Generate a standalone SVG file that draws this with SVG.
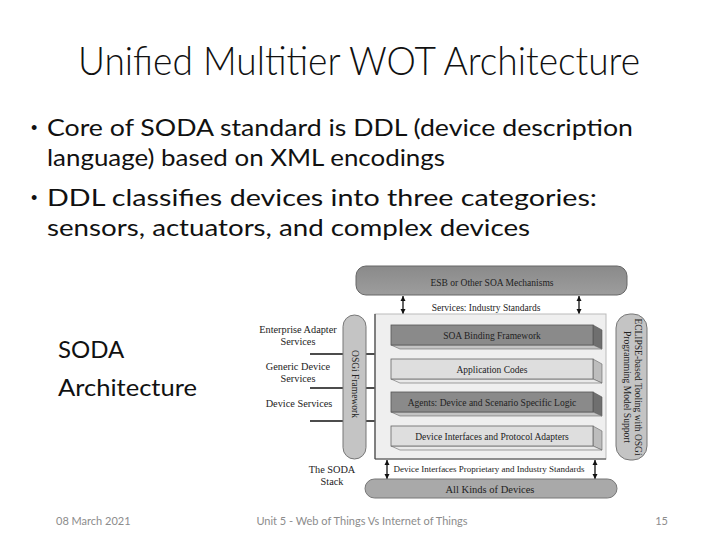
<svg xmlns="http://www.w3.org/2000/svg" width="720" height="540" viewBox="0 0 720 540">
<style>
.title{font-family:Lato,"Noto Sans","Liberation Sans",sans-serif;font-size:40px;fill:#111;font-weight:300}
.body{font-family:Lato,"Noto Sans","Liberation Sans",sans-serif;font-size:24px;fill:#111}
.bul{font-family:"Liberation Sans",sans-serif;font-size:18px;fill:#111}
.foot{font-family:Lato,"Liberation Sans",sans-serif;font-size:11px;fill:#8c8c8c}
.dc{font-family:"Liberation Serif","DejaVu Serif",serif;font-size:9.5px;fill:#222;text-anchor:middle}
.lab{font-size:10.3px}
.dark{fill:#8a8a8a;stroke:#555;stroke-width:0.8}
.light{fill:#dedede;stroke:#666;stroke-width:0.8}
.side{fill:#6f6f6f;stroke:#555;stroke-width:0.6}
.lside{fill:#bdbdbd;stroke:#666;stroke-width:0.6}
.bot{fill:#c4c4c4;stroke:#666;stroke-width:0.6}
.pill{fill:#c4c4c4;stroke:#777;stroke-width:1}
.conn{stroke:#111;stroke-width:1.3;fill:none}
</style>
<defs>
<marker id="ah" viewBox="0 0 10 10" refX="10" refY="5" markerWidth="9" markerHeight="7" markerUnits="userSpaceOnUse" orient="auto"><path d="M0,0 L10,5 L0,10 z" fill="#111"/></marker>
<marker id="sh" viewBox="0 0 10 10" refX="10" refY="5" markerWidth="5" markerHeight="6" markerUnits="userSpaceOnUse" orient="auto-start-reverse"><path d="M0,0 L10,5 L0,10 z" fill="#111"/></marker>
<linearGradient id="gEsb" x1="0" y1="0" x2="0" y2="1"><stop offset="0" stop-color="#8a8a8a"/><stop offset="1" stop-color="#9d9d9d"/></linearGradient>
</defs>
<rect width="720" height="540" fill="#fff"/>

<g id="title"><text class="title" x="78" y="75" textLength="562" lengthAdjust="spacingAndGlyphs">Unified Multitier WOT Architecture</text></g>

<g id="bullets">
<text class="bul" x="31" y="134">•</text>
<text class="body" x="47" y="136" textLength="586" lengthAdjust="spacingAndGlyphs">Core of SODA standard is DDL (device description</text>
<text class="body" x="47" y="166" textLength="398" lengthAdjust="spacingAndGlyphs">language) based on XML encodings</text>
<text class="bul" x="31" y="204">•</text>
<text class="body" x="47" y="206" textLength="550" lengthAdjust="spacingAndGlyphs">DDL classifies devices into three categories:</text>
<text class="body" x="47" y="236" textLength="483" lengthAdjust="spacingAndGlyphs">sensors, actuators, and complex devices</text>
</g>

<g id="side-label">
<text class="body" x="58" y="358">SODA</text>
<text class="body" x="58" y="396" textLength="139" lengthAdjust="spacingAndGlyphs">Architecture</text>
</g>

<g id="connectors">
<line class="conn" x1="310" y1="354" x2="391" y2="354" marker-end="url(#ah)"/>
<line class="conn" x1="310" y1="388" x2="391" y2="388" marker-end="url(#ah)"/>
<line class="conn" x1="310" y1="421" x2="391" y2="421" marker-end="url(#ah)"/>
<line class="conn" x1="403" y1="296" x2="403" y2="314" marker-start="url(#sh)" marker-end="url(#sh)" stroke-width="1"/>
<line class="conn" x1="579" y1="296" x2="579" y2="314" marker-start="url(#sh)" marker-end="url(#sh)" stroke-width="1"/>
<line class="conn" x1="387" y1="460" x2="387" y2="479" marker-start="url(#sh)" marker-end="url(#sh)" stroke-width="1"/>
<line class="conn" x1="595" y1="460" x2="595" y2="479" marker-start="url(#sh)" marker-end="url(#sh)" stroke-width="1"/>
</g>

<g id="esb">
<rect x="356" y="266" width="271" height="29" rx="10" fill="url(#gEsb)" stroke="#666" stroke-width="1"/>
<text class="dc" x="492" y="286">ESB or Other SOA Mechanisms</text>
</g>
<g id="services-label"><text class="dc" x="486" y="311">Services: Industry Standards</text></g>

<g id="osgi">
<rect class="pill" x="343" y="315" width="23" height="144" rx="11.5"/>
<text class="dc" transform="translate(351.5,384) rotate(90)">OSGi Framework</text>
</g>

<g id="frame">
<rect x="375" y="314" width="231" height="145" fill="#efefef" stroke="#bbb" stroke-width="1"/>
<line x1="375" y1="314" x2="375" y2="459" stroke="#444" stroke-width="1.2"/>
<line x1="375" y1="459" x2="606" y2="459" stroke="#444" stroke-width="1"/>
</g>

<g id="soa-binding">
<polygon class="side" points="593,325 602,330 602,349 593,345"/>
<polygon class="bot" points="391,345 593,345 602,349 400,349"/>
<rect class="dark" x="391" y="325" width="202" height="20"/>
<text class="dc" x="492" y="339">SOA Binding Framework</text>
</g>
<g id="application-codes">
<polygon class="lside" points="593,359 602,364 602,383 593,379"/>
<polygon class="bot" points="391,379 593,379 602,383 400,383" style="fill:#e9e9e9"/>
<rect class="light" x="391" y="359" width="202" height="20"/>
<text class="dc" x="492" y="373">Application Codes</text>
</g>
<g id="agents">
<polygon class="side" points="593,392 602,397 602,416 593,412"/>
<polygon class="bot" points="391,412 593,412 602,416 400,416"/>
<rect class="dark" x="391" y="392" width="202" height="20"/>
<text class="dc" x="492" y="406">Agents: Device and Scenario Specific Logic</text>
</g>
<g id="device-interfaces">
<polygon class="lside" points="593,426 602,431 602,450 593,446"/>
<polygon class="bot" points="391,446 593,446 602,450 400,450" style="fill:#e9e9e9"/>
<rect class="light" x="391" y="426" width="202" height="20"/>
<text class="dc" x="492" y="440">Device Interfaces and Protocol Adapters</text>
</g>

<g id="eclipse">
<rect class="pill" x="616" y="314" width="31" height="146" rx="14"/>
<text class="dc" transform="translate(635,387) rotate(90)">ECLIPSE-based Tooling with OSGi</text>
<text class="dc" transform="translate(624,387) rotate(90)">Programming Model Support</text>
</g>

<g id="device-label"><text class="dc" x="489" y="472" style="font-size:9px">Device Interfaces Proprietary and Industry Standards</text></g>

<g id="all-devices">
<rect x="365" y="479" width="252" height="19" rx="9.5" fill="#a9a9a9" stroke="#777" stroke-width="1"/>
<text class="dc" x="490" y="492.5" style="font-size:10.5px">All Kinds of Devices</text>
</g>

<g id="left-labels">
<text class="dc lab" x="298" y="333">Enterprise Adapter</text>
<text class="dc lab" x="298" y="345">Services</text>
<text class="dc lab" x="298" y="370">Generic Device</text>
<text class="dc lab" x="298" y="382">Services</text>
<text class="dc lab" x="299" y="407">Device Services</text>
<text class="dc lab" x="332" y="473">The SODA</text>
<text class="dc lab" x="332" y="485">Stack</text>
</g>

<g id="footer">
<text class="foot" x="56" y="525">08 March 2021</text>
<text class="foot" x="362" y="525" text-anchor="middle">Unit 5 - Web of Things Vs Internet of Things</text>
<text class="foot" x="668" y="525" text-anchor="end">15</text>
</g>
</svg>
